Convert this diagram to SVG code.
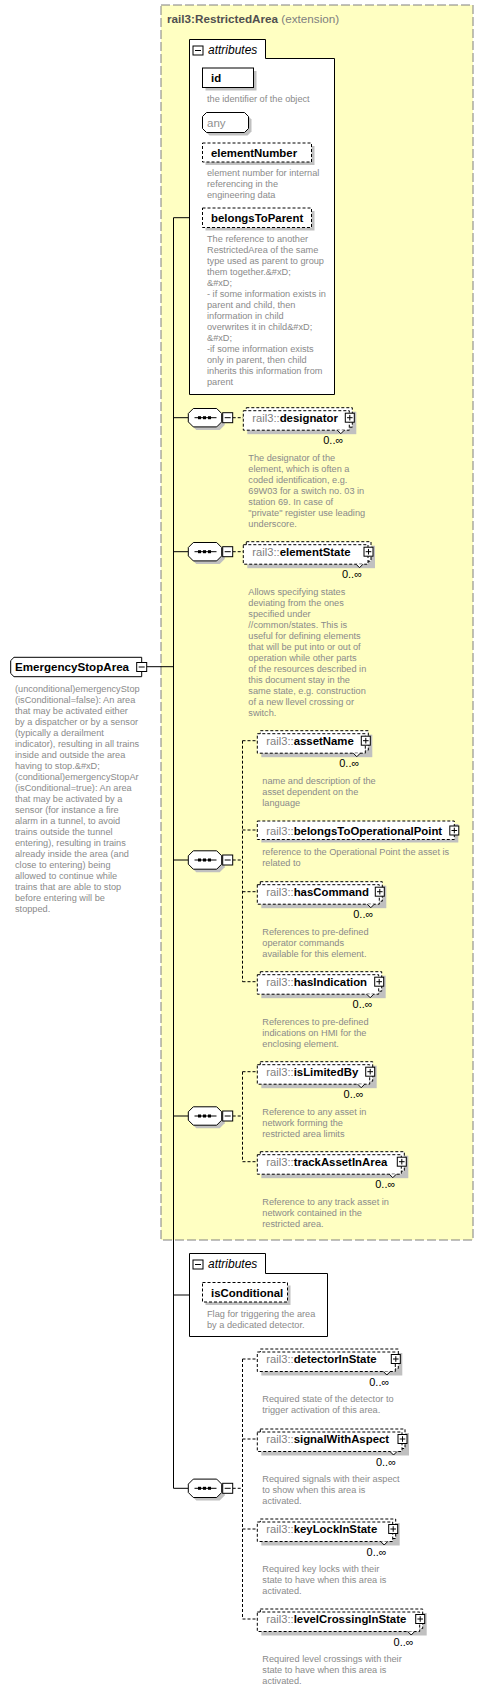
<svg xmlns="http://www.w3.org/2000/svg" xmlns:xlink="http://www.w3.org/1999/xlink" width="483" height="1691" viewBox="0 0 483 1691">
<style>
text{font-family:"Liberation Sans",Arial,sans-serif}
.d{font-size:9.2px;fill:#8a8a8a}
.n{font-size:11.4px;font-weight:bold;fill:#000}
.p{font-size:11.2px;fill:#808080}
.m{font-size:11px;fill:#000;text-anchor:end}
.it{font-size:12px;font-style:italic;fill:#000}
.bx{fill:#fff;stroke:#000;stroke-width:1}
.db{fill:#fff;stroke:#000;stroke-width:1;stroke-dasharray:3,2}
.sh{fill:#c0c0c0}
.ln{stroke:#000;stroke-width:1;fill:none}
.dl{stroke:#000;stroke-width:1;fill:none;stroke-dasharray:3,2}
</style>
<defs>
<g id="seq">
<polygon class="sh" points="196.3,-6.2 219.7,-6.2 224.7,-1.2 224.7,7.2 219.7,12.2 196.3,12.2 191.3,7.2 191.3,-1.2"/>
<polygon class="bx" points="193.3,-9.2 216.7,-9.2 221.7,-4.2 221.7,4.2 216.7,9.2 193.3,9.2 188.3,4.2 188.3,-4.2"/>
<line class="ln" x1="194.5" y1="0" x2="216.5" y2="0"/>
<rect x="198" y="-1.5" width="3" height="3"/>
<rect x="203" y="-1.5" width="3" height="3"/>
<rect x="208" y="-1.5" width="3" height="3"/>
<rect class="bx" x="222.7" y="-5" width="10" height="10"/>
<line class="ln" x1="224.7" y1="0" x2="230.7" y2="0"/>
</g>
<g id="plus">
<rect class="bx" x="-4.5" y="-4.5" width="9" height="9"/>
<path class="ln" d="M-2.8,0H2.8M0,-2.8V2.8"/>
</g>
<g id="minus">
<rect class="bx" x="-5" y="-4.5" width="10" height="9"/>
<path class="ln" d="M-3,0H3"/>
</g>
<clipPath id="rootclip"><rect x="0" y="680" width="141" height="240"/></clipPath>
</defs>

<g id="restrictedArea">
<rect x="161" y="5" width="312" height="1235" fill="#ffffc2" stroke="#808080" stroke-width="1" stroke-dasharray="9,3"/>
<text x="167" y="23" style="font-size:11.7px"><tspan font-weight="bold" fill="#505050">rail3:RestrictedArea</tspan><tspan fill="#808080"> (extension)</tspan></text>
</g>

<g id="connectors">
<path class="ln" d="M173.5,217.7V1488.3"/>
<path class="ln" d="M173.5,217.7H189.5M173.5,1295H189.5M146.7,666.7H173.5"/>
<path class="ln" d="M173.5,417.7H188.3M173.5,551.7H188.3M173.5,860H188.3M173.5,1116H188.3M173.5,1488.3H188.3"/>
<path class="dl" d="M232.7,417.7H243.3M232.7,551.7H243.3"/>
<path class="dl" d="M232.7,860H242.5M242.5,740.7V981.7M242.5,740.7H257.3M242.5,830H257.3M242.5,891.7H257.3M242.5,981.7H257.3"/>
<path class="dl" d="M232.7,1116H242.5M242.5,1071.7V1161.7M242.5,1071.7H257.3M242.5,1161.7H257.3"/>
<path class="dl" d="M232.7,1488.3H242.5M242.5,1359V1619M242.5,1359H257.3M242.5,1439H257.3M242.5,1529H257.3M242.5,1619H257.3"/>
</g>

<g id="EmergencyStopArea">
<path class="bx" d="M14,657.3H141.7V676.7H14L10.7,673.4V660.6Z"/>
<text class="n" x="15" y="671" style="font-size:11.6px">EmergencyStopArea</text>
<use xlink:href="#minus" x="141.7" y="667"/>
<text class="d" clip-path="url(#rootclip)">
<tspan x="15" y="691.7">(unconditional)emergencyStop</tspan>
<tspan x="15" y="702.7">(isConditional=false): An area</tspan>
<tspan x="15" y="713.7">that may be activated either</tspan>
<tspan x="15" y="724.7">by a dispatcher or by a sensor</tspan>
<tspan x="15" y="735.7">(typically a derailment</tspan>
<tspan x="15" y="746.7">indicator), resulting in all trains</tspan>
<tspan x="15" y="757.7">inside and outside the area</tspan>
<tspan x="15" y="768.7">having to stop.&amp;#xD;</tspan>
<tspan x="15" y="779.7">(conditional)emergencyStopAr</tspan>
<tspan x="15" y="790.7">(isConditional=true): An area</tspan>
<tspan x="15" y="801.7">that may be activated by a</tspan>
<tspan x="15" y="812.7">sensor (for instance a fire</tspan>
<tspan x="15" y="823.7">alarm in a tunnel, to avoid</tspan>
<tspan x="15" y="834.7">trains outside the tunnel</tspan>
<tspan x="15" y="845.7">entering), resulting in trains</tspan>
<tspan x="15" y="856.7">already inside the area (and</tspan>
<tspan x="15" y="867.7">close to entering) being</tspan>
<tspan x="15" y="878.7">allowed to continue while</tspan>
<tspan x="15" y="889.7">trains that are able to stop</tspan>
<tspan x="15" y="900.7">before entering will be</tspan>
<tspan x="15" y="911.7">stopped.</tspan>
</text>
</g>

<g id="attributes1">
<path class="bx" d="M189.5,39.5H265.5V58.5H334.5V394.5H189.5Z"/>
<use xlink:href="#minus" x="198" y="50.5"/>
<text class="it" x="208" y="54">attributes</text>
<rect class="sh" x="205.5" y="71" width="51" height="19.5"/>
<rect class="bx" x="202.5" y="68" width="51" height="19.5"/>
<text class="n" x="211" y="82">id</text>
<text class="d" x="207" y="102">the identifier of the object</text>
<polygon class="sh" points="209.5,115.5 247.5,115.5 251.5,119.5 251.5,131.5 247.5,135.5 209.5,135.5 205.5,131.5 205.5,119.5"/>
<polygon class="bx" points="206.5,112.5 244.5,112.5 248.5,116.5 248.5,128.5 244.5,132.5 206.5,132.5 202.5,128.5 202.5,116.5"/>
<text x="207" y="126.7" style="font-size:11.5px;fill:#909090">any</text>
<rect class="sh" x="205.5" y="146" width="109" height="19"/>
<rect class="db" x="202.5" y="143" width="109" height="19"/>
<text class="n" x="211" y="156.5">elementNumber</text>
<text class="d"><tspan x="207" y="175.7">element number for internal</tspan><tspan x="207" y="186.7">referencing in the</tspan><tspan x="207" y="197.7">engineering data</tspan></text>
<rect class="sh" x="205.5" y="211" width="109" height="19.5"/>
<rect class="db" x="202.5" y="208" width="109" height="19.5"/>
<text class="n" x="211" y="221.7">belongsToParent</text>
<text class="d">
<tspan x="207" y="242.3">The reference to another</tspan>
<tspan x="207" y="253.3">RestrictedArea of the same</tspan>
<tspan x="207" y="264.3">type used as parent to group</tspan>
<tspan x="207" y="275.3">them together.&amp;#xD;</tspan>
<tspan x="207" y="286.3">&amp;#xD;</tspan>
<tspan x="207" y="297.3">- if some information exists in</tspan>
<tspan x="207" y="308.3">parent and child, then</tspan>
<tspan x="207" y="319.3">information in child</tspan>
<tspan x="207" y="330.3">overwrites it in child&amp;#xD;</tspan>
<tspan x="207" y="341.3">&amp;#xD;</tspan>
<tspan x="207" y="352.3">-if some information exists</tspan>
<tspan x="207" y="363.3">only in parent, then child</tspan>
<tspan x="207" y="374.3">inherits this information from</tspan>
<tspan x="207" y="385.3">parent</tspan>
</text>
</g>

<g id="sequence1"><use xlink:href="#seq" y="417.7"/></g>
<g id="sequence2"><use xlink:href="#seq" y="551.7"/></g>
<g id="sequence3"><use xlink:href="#seq" y="860"/></g>
<g id="sequence4"><use xlink:href="#seq" y="1116"/></g>
<g id="sequence5"><use xlink:href="#seq" y="1488.3"/></g>

<g id="designator">
<rect class="sh" x="247.3" y="411.7" width="109" height="22.5"/>
<rect class="db" x="246.3" y="407.7" width="106" height="19.5"/>
<rect class="db" x="243.3" y="410.7" width="106" height="19.5"/>
<polyline class="bx" points="337.3,430.2 340.8,433.7 344.3,430.2"/>
<text x="252.3" y="421.7"><tspan class="p">rail3::</tspan><tspan class="n">designator</tspan></text>
<use xlink:href="#plus" x="349.8" y="417.7"/>
<text class="m" x="343.3" y="444.3">0..∞</text>
<text class="d"><tspan x="248.3" y="460.7">The designator of the</tspan><tspan x="248.3" y="471.7">element, which is often a</tspan><tspan x="248.3" y="482.7">coded identification, e.g.</tspan><tspan x="248.3" y="493.7">69W03 for a switch no. 03 in</tspan><tspan x="248.3" y="504.7">station 69. In case of</tspan><tspan x="248.3" y="515.7">"private" register use leading</tspan><tspan x="248.3" y="526.7">underscore.</tspan></text>
</g>

<g id="elementState">
<rect class="sh" x="247.3" y="545.7" width="127.7" height="22.5"/>
<rect class="db" x="246.3" y="541.7" width="124.7" height="19.5"/>
<rect class="db" x="243.3" y="544.7" width="124.7" height="19.5"/>
<polyline class="bx" points="356,564.2 359.5,567.7 363,564.2"/>
<text x="252.3" y="555.7"><tspan class="p">rail3::</tspan><tspan class="n">elementState</tspan></text>
<use xlink:href="#plus" x="368.5" y="551.7"/>
<text class="m" x="362" y="578.3">0..∞</text>
<text class="d"><tspan x="248.3" y="594.7">Allows specifying states</tspan><tspan x="248.3" y="605.7">deviating from the ones</tspan><tspan x="248.3" y="616.7">specified under</tspan><tspan x="248.3" y="627.7">//common/states. This is</tspan><tspan x="248.3" y="638.7">useful for defining elements</tspan><tspan x="248.3" y="649.7">that will be put into or out of</tspan><tspan x="248.3" y="660.7">operation while other parts</tspan><tspan x="248.3" y="671.7">of the resources described in</tspan><tspan x="248.3" y="682.7">this document stay in the</tspan><tspan x="248.3" y="693.7">same state, e.g. construction</tspan><tspan x="248.3" y="704.7">of a new llevel crossing or</tspan><tspan x="248.3" y="715.7">switch.</tspan></text>
</g>

<g id="assetName">
<rect class="sh" x="261.3" y="734.7" width="111" height="22.5"/>
<rect class="db" x="260.3" y="730.7" width="108" height="19.5"/>
<rect class="db" x="257.3" y="733.7" width="108" height="19.5"/>
<polyline class="bx" points="353.3,753.2 356.8,756.7 360.3,753.2"/>
<text x="266.3" y="744.7"><tspan class="p">rail3::</tspan><tspan class="n">assetName</tspan></text>
<use xlink:href="#plus" x="365.8" y="740.7"/>
<text class="m" x="359.3" y="767.3">0..∞</text>
<text class="d"><tspan x="262.3" y="783.7">name and description of the</tspan><tspan x="262.3" y="794.7">asset dependent on the</tspan><tspan x="262.3" y="805.7">language</tspan></text>
</g>

<g id="belongsToOperationalPoint">
<rect class="sh" x="261.3" y="824" width="197" height="18.5"/>
<rect class="db" x="257.3" y="821" width="197" height="18.5"/>
<text x="266.3" y="835"><tspan class="p">rail3::</tspan><tspan class="n">belongsToOperationalPoint</tspan></text>
<use xlink:href="#plus" x="454.3" y="830.5"/>
<text class="d"><tspan x="262.3" y="855">reference to the Operational Point the asset is</tspan><tspan x="262.3" y="866">related to</tspan></text>
</g>

<g id="hasCommand">
<rect class="sh" x="261.3" y="885.7" width="125" height="22.5"/>
<rect class="db" x="260.3" y="881.7" width="122" height="19.5"/>
<rect class="db" x="257.3" y="884.7" width="122" height="19.5"/>
<polyline class="bx" points="367.3,904.2 370.8,907.7 374.3,904.2"/>
<text x="266.3" y="895.7"><tspan class="p">rail3::</tspan><tspan class="n">hasCommand</tspan></text>
<use xlink:href="#plus" x="379.8" y="891.7"/>
<text class="m" x="373.3" y="918.3">0..∞</text>
<text class="d"><tspan x="262.3" y="934.7">References to pre-defined</tspan><tspan x="262.3" y="945.7">operator commands</tspan><tspan x="262.3" y="956.7">available for this element.</tspan></text>
</g>

<g id="hasIndication">
<rect class="sh" x="261.3" y="975.7" width="124.4" height="22.5"/>
<rect class="db" x="260.3" y="971.7" width="121.4" height="19.5"/>
<rect class="db" x="257.3" y="974.7" width="121.4" height="19.5"/>
<polyline class="bx" points="366.7,994.2 370.2,997.7 373.7,994.2"/>
<text x="266.3" y="985.7"><tspan class="p">rail3::</tspan><tspan class="n">hasIndication</tspan></text>
<use xlink:href="#plus" x="379.2" y="981.7"/>
<text class="m" x="372.7" y="1008.3">0..∞</text>
<text class="d"><tspan x="262.3" y="1024.7">References to pre-defined</tspan><tspan x="262.3" y="1035.7">indications on HMI for the</tspan><tspan x="262.3" y="1046.7">enclosing element.</tspan></text>
</g>

<g id="isLimitedBy">
<rect class="sh" x="261.3" y="1065.7" width="115.4" height="22.5"/>
<rect class="db" x="260.3" y="1061.7" width="112.4" height="19.5"/>
<rect class="db" x="257.3" y="1064.7" width="112.4" height="19.5"/>
<polyline class="bx" points="357.7,1084.2 361.2,1087.7 364.7,1084.2"/>
<text x="266.3" y="1075.7"><tspan class="p">rail3::</tspan><tspan class="n">isLimitedBy</tspan></text>
<use xlink:href="#plus" x="370.2" y="1071.7"/>
<text class="m" x="363.7" y="1098.3">0..∞</text>
<text class="d"><tspan x="262.3" y="1114.7">Reference to any asset in</tspan><tspan x="262.3" y="1125.7">network forming the</tspan><tspan x="262.3" y="1136.7">restricted area limits</tspan></text>
</g>

<g id="trackAssetInArea">
<rect class="sh" x="261.3" y="1155.7" width="147" height="22.5"/>
<rect class="db" x="260.3" y="1151.7" width="144" height="19.5"/>
<rect class="db" x="257.3" y="1154.7" width="144" height="19.5"/>
<polyline class="bx" points="389.3,1174.2 392.8,1177.7 396.3,1174.2"/>
<text x="266.3" y="1165.7"><tspan class="p">rail3::</tspan><tspan class="n">trackAssetInArea</tspan></text>
<use xlink:href="#plus" x="401.8" y="1161.7"/>
<text class="m" x="395.3" y="1188.3">0..∞</text>
<text class="d"><tspan x="262.3" y="1204.7">Reference to any track asset in</tspan><tspan x="262.3" y="1215.7">network contained in the</tspan><tspan x="262.3" y="1226.7">restricted area.</tspan></text>
</g>

<g id="attributes2">
<path class="bx" d="M189.5,1253.5H265.5V1273.5H327.5V1336.5H189.5Z"/>
<use xlink:href="#minus" x="198" y="1264.5"/>
<text class="it" x="208" y="1268">attributes</text>
<rect class="sh" x="205.5" y="1285.5" width="85" height="19.5"/>
<rect class="db" x="202.5" y="1282.5" width="85" height="19.5"/>
<text class="n" x="211" y="1296.5">isConditional</text>
<text class="d"><tspan x="207" y="1316.7">Flag for triggering the area</tspan><tspan x="207" y="1327.7">by a dedicated detector.</tspan></text>
</g>

<g id="detectorInState">
<rect class="sh" x="261.3" y="1353" width="141" height="22.5"/>
<rect class="db" x="260.3" y="1349" width="138" height="19.5"/>
<rect class="db" x="257.3" y="1352" width="138" height="19.5"/>
<polyline class="bx" points="383.3,1371.5 386.8,1375 390.3,1371.5"/>
<text x="266.3" y="1363"><tspan class="p">rail3::</tspan><tspan class="n">detectorInState</tspan></text>
<use xlink:href="#plus" x="395.8" y="1359"/>
<text class="m" x="389.3" y="1385.6">0..∞</text>
<text class="d"><tspan x="262.3" y="1402">Required state of the detector to</tspan><tspan x="262.3" y="1413">trigger activation of this area.</tspan></text>
</g>

<g id="signalWithAspect">
<rect class="sh" x="261.3" y="1433" width="147.7" height="22.5"/>
<rect class="db" x="260.3" y="1429" width="144.7" height="19.5"/>
<rect class="db" x="257.3" y="1432" width="144.7" height="19.5"/>
<polyline class="bx" points="390,1451.5 393.5,1455 397,1451.5"/>
<text x="266.3" y="1443"><tspan class="p">rail3::</tspan><tspan class="n">signalWithAspect</tspan></text>
<use xlink:href="#plus" x="402.5" y="1439"/>
<text class="m" x="396" y="1465.6">0..∞</text>
<text class="d"><tspan x="262.3" y="1482">Required signals with their aspect</tspan><tspan x="262.3" y="1493">to show when this area is</tspan><tspan x="262.3" y="1504">activated.</tspan></text>
</g>

<g id="keyLockInState">
<rect class="sh" x="261.3" y="1523" width="138.4" height="22.5"/>
<rect class="db" x="260.3" y="1519" width="135.4" height="19.5"/>
<rect class="db" x="257.3" y="1522" width="135.4" height="19.5"/>
<polyline class="bx" points="380.7,1541.5 384.2,1545 387.7,1541.5"/>
<text x="266.3" y="1533"><tspan class="p">rail3::</tspan><tspan class="n">keyLockInState</tspan></text>
<use xlink:href="#plus" x="393.2" y="1529"/>
<text class="m" x="386.7" y="1555.6">0..∞</text>
<text class="d"><tspan x="262.3" y="1572">Required key locks with their</tspan><tspan x="262.3" y="1583">state to have when this area is</tspan><tspan x="262.3" y="1594">activated.</tspan></text>
</g>

<g id="levelCrossingInState">
<rect class="sh" x="261.3" y="1613" width="165.4" height="22.5"/>
<rect class="db" x="260.3" y="1609" width="162.4" height="19.5"/>
<rect class="db" x="257.3" y="1612" width="162.4" height="19.5"/>
<polyline class="bx" points="407.7,1631.5 411.2,1635 414.7,1631.5"/>
<text x="266.3" y="1623"><tspan class="p">rail3::</tspan><tspan class="n">levelCrossingInState</tspan></text>
<use xlink:href="#plus" x="420.2" y="1619"/>
<text class="m" x="413.7" y="1645.6">0..∞</text>
<text class="d"><tspan x="262.3" y="1662">Required level crossings with their</tspan><tspan x="262.3" y="1673">state to have when this area is</tspan><tspan x="262.3" y="1684">activated.</tspan></text>
</g>
</svg>
